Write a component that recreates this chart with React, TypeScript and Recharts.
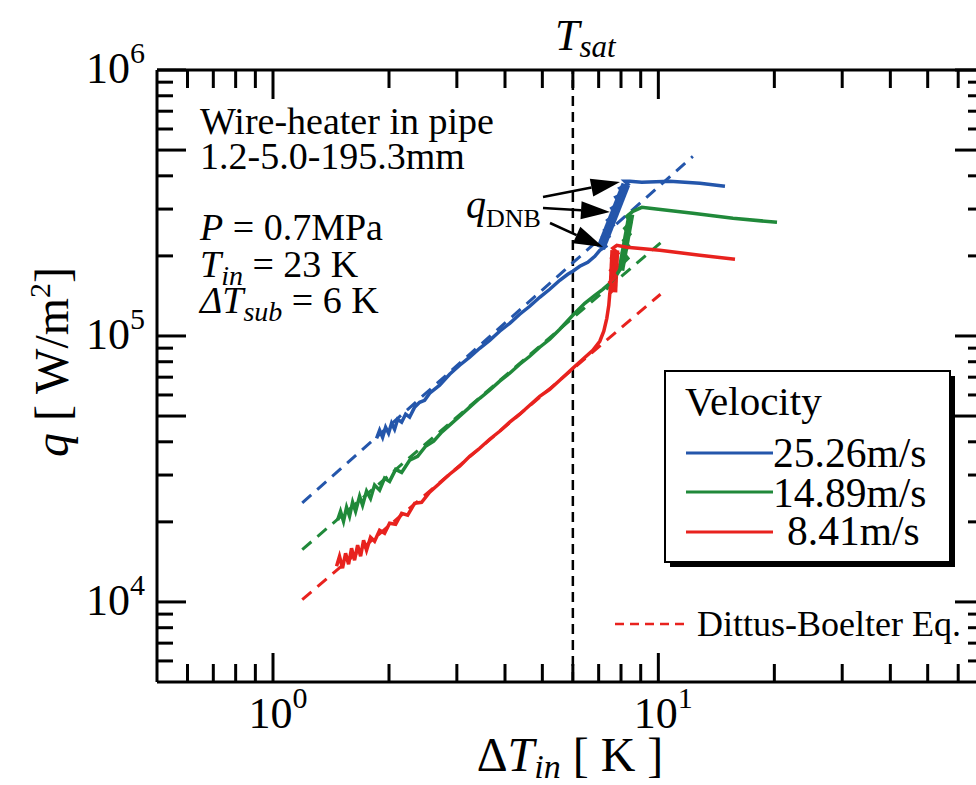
import React from 'react'
import { LineChart, Line, XAxis, YAxis, ReferenceLine } from 'recharts'

// measured runs, [ΔT_in (K), q (W/m2)]
const run2526: [number, number][] = [
  [1.857, 41200], [1.891, 44200], [1.925, 41600], [1.96, 45400], [1.995, 43100],
  [2.031, 47000], [2.068, 44600], [2.106, 48600], [2.157, 47400], [2.209, 50800],
  [2.262, 49500], [2.331, 54000], [2.402, 56300], [2.474, 57300], [2.55, 60900],
  [2.707, 65300], [2.873, 71800], [3.051, 77600], [3.239, 83200], [3.439, 89900],
  [3.65, 96300], [3.875, 104200], [4.114, 111600], [4.368, 120700], [4.637, 129300],
  [4.922, 139800], [5.226, 149800], [5.549, 162000], [5.82, 170600], [5.997, 175100],
  [6.253, 182800], [6.56, 189300], [6.841, 199400], [7.048, 210000], [7.305, 217400],
  [7.132, 229000], [7.437, 237000], [7.261, 249700], [7.618, 260700], [7.392, 272300],
  [7.755, 286800], [7.572, 302100], [7.943, 315400], [7.755, 332300], [8.136, 344000],
  [7.943, 359200], [8.333, 371800], [8.185, 381600], [8.433, 381600], [9.06, 378300],
  [10.71, 381600], [12.82, 375100], [14.89, 365400],
]

const run1489: [number, number][] = [
  [1.471, 20300], [1.497, 21900], [1.524, 20100], [1.552, 22700], [1.58, 21000],
  [1.609, 23700], [1.638, 21900], [1.678, 25000], [1.708, 23100], [1.749, 26100],
  [1.791, 24500], [1.835, 27500], [1.891, 26300], [1.948, 29200], [2.007, 28400],
  [2.081, 31500], [2.157, 30700], [2.262, 34100], [2.373, 35300], [2.489, 38500],
  [2.612, 40200], [2.74, 43500], [2.873, 46200], [3.051, 49900], [3.239, 54000],
  [3.439, 58300], [3.65, 62500], [3.875, 67600], [4.114, 72400], [4.368, 78300],
  [4.637, 83900], [4.922, 90700], [5.226, 97200], [5.549, 106000], [5.997, 119600],
  [6.443, 132700], [6.841, 142200], [7.174, 149800], [7.482, 157800], [7.755, 167700],
  [7.991, 179700], [8.136, 189300], [8.333, 195900], [8.087, 206400], [8.383, 217400],
  [8.136, 229000], [8.433, 241200], [8.185, 254000], [8.484, 267500], [8.283, 281800],
  [8.586, 294300], [9.06, 304600], [9.504, 302100], [12.29, 289300], [15.62, 277000],
  [20.32, 267500],
]

const run841: [number, number][] = [
  [1.462, 13620], [1.488, 14850], [1.515, 13390], [1.543, 15240], [1.571, 13860],
  [1.599, 15920], [1.628, 14350], [1.658, 16340], [1.688, 14850], [1.718, 17060],
  [1.749, 15650], [1.791, 17510], [1.835, 16910], [1.891, 18600], [1.948, 18130],
  [2.007, 19770], [2.081, 19590], [2.157, 21550], [2.236, 21180], [2.331, 23500],
  [2.43, 23700], [2.55, 25850], [2.707, 27940], [2.873, 30210], [3.051, 32380],
  [3.239, 35300], [3.439, 37830], [3.65, 40900], [3.875, 43820], [4.114, 47400],
  [4.368, 50800], [4.637, 54890], [4.922, 59330], [5.226, 63040], [5.549, 68150],
  [5.997, 75620], [6.367, 81740], [6.76, 88350], [7.048, 95520], [7.218, 104200],
  [7.349, 116500], [7.437, 130400], [7.482, 144700], [7.663, 151100], [7.482, 159200],
  [7.755, 167700], [7.527, 176600], [7.802, 186000], [7.572, 195900], [7.848, 204600],
  [7.618, 213700], [7.802, 219300], [8.283, 215500], [10.09, 210000], [12.82, 201100],
  [15.81, 194300],
]

// dense scatter just before DNB (drawn as a wide band)
const burst2526: [number, number][] = [[7.09, 213700], [8.235, 371800]]
const burst1489: [number, number][] = [[7.991, 176600], [8.484, 286800]]
const burst841: [number, number][] = [[7.618, 146000], [7.709, 210000]]

// Dittus-Boelter predictions
const db2526: [number, number][] = [[1.191, 23560], [12.29, 473800]]
const db1489: [number, number][] = [[1.191, 15740], [10.13, 223700]]
const db841: [number, number][] = [[1.191, 10200], [10.13, 143500]]

const tSat = 6

const xTicks = [0.6, 0.7, 0.8, 0.9, 1, 2, 3, 4, 5, 6, 7, 8, 9, 10, 20, 30, 40, 50, 60]
const xMajor = [1, 10]
const yTicks = [
  6000, 7000, 8000, 9000, 10000, 20000, 30000, 40000, 50000, 60000, 70000, 80000, 90000,
  100000, 200000, 300000, 400000, 500000, 600000, 700000, 800000, 900000, 1000000,
]
const yMajor = [10000, 50000, 100000, 500000, 1000000]
const yLabeled = [10000, 100000, 1000000]

const BLUE = '#2456ab'
const GREEN = '#20893a'
const RED = '#e8221e'
const FONT = "'Liberation Serif', 'Times New Roman', serif"

const pts = (a: [number, number][]) => a.map(([t, q]) => ({ t, q }))

const BottomTick = (p: any) => {
  const v = p.payload.value
  const major = xMajor.includes(v)
  return (
    <g>
      <line x1={p.x} x2={p.x} y1={p.y} y2={p.y - (major ? 29 : 18)} stroke="#000" strokeWidth={3} />
      {major && (
        <text x={p.x + 5} y={p.y + 46} textAnchor="middle" fontFamily={FONT} fontSize={44} fill="#000">
          10<tspan dy={-20} fontSize={30}>{Math.round(Math.log10(v))}</tspan>
        </text>
      )}
    </g>
  )
}

const TopTick = (p: any) => {
  const major = xMajor.includes(p.payload.value)
  return <line x1={p.x} x2={p.x} y1={p.y} y2={p.y + (major ? 29 : 18)} stroke="#000" strokeWidth={3} />
}

const LeftTick = (p: any) => {
  const v = p.payload.value
  const major = yMajor.includes(v)
  return (
    <g>
      <line x1={p.x} x2={p.x + (major ? 29 : 16)} y1={p.y} y2={p.y} stroke="#000" strokeWidth={3} />
      {yLabeled.includes(v) && (
        <text x={p.x - 12} y={p.y + 13} textAnchor="end" fontFamily={FONT} fontSize={44} fill="#000">
          10<tspan dy={-20} fontSize={30}>{Math.round(Math.log10(v))}</tspan>
        </text>
      )}
    </g>
  )
}

const RightTick = (p: any) => {
  const major = yMajor.includes(p.payload.value)
  return <line x1={p.x} x2={p.x - (major ? 29 : 16)} y1={p.y} y2={p.y} stroke="#000" strokeWidth={3} />
}

const arrow = (tx: number, ty: number, hx: number, hy: number) => {
  const dx = hx - tx
  const dy = hy - ty
  const len = Math.hypot(dx, dy)
  const ux = dx / len
  const uy = dy / len
  const bx = hx - ux * 29
  const by = hy - uy * 29
  return (
    <g key={`${tx}-${ty}`}>
      <line x1={tx} y1={ty} x2={bx} y2={by} stroke="#000" strokeWidth={2.5} />
      <polygon
        points={`${hx},${hy} ${bx - uy * 9},${by + ux * 9} ${bx + uy * 9},${by - ux * 9}`}
        fill="#000"
      />
    </g>
  )
}

const axisLine = { stroke: '#000', strokeWidth: 3 }

export default function App() {
  return (
    <div style={{ position: 'fixed', left: 0, top: 0, width: 976, height: 785, overflow: 'hidden', background: '#fff' }}>
      <LineChart width={1000} height={785} margin={{ top: 40, right: 0, bottom: 0, left: 0 }}>
        <XAxis
          dataKey="t" type="number" scale="log" domain={[0.5, 70]} allowDataOverflow
          ticks={xTicks} interval={0} height={103} tickSize={0} tickMargin={0}
          axisLine={axisLine} tickLine={false} tick={<BottomTick />}
        />
        <XAxis
          xAxisId="top" orientation="top" dataKey="t" type="number" scale="log" domain={[0.5, 70]}
          allowDataOverflow ticks={xTicks} interval={0} height={30} tickSize={0} tickMargin={0}
          axisLine={axisLine} tickLine={false} tick={<TopTick />}
        />
        <YAxis
          dataKey="q" type="number" scale="log" domain={[5000, 1000000]} allowDataOverflow
          ticks={yTicks} interval={0} width={157} tickSize={0} tickMargin={0}
          axisLine={axisLine} tickLine={false} tick={<LeftTick />}
        />
        <YAxis
          yAxisId="right" orientation="right" dataKey="q" type="number" scale="log"
          domain={[5000, 1000000]} allowDataOverflow ticks={yTicks} interval={0} width={16}
          tickSize={0} tickMargin={0} axisLine={axisLine} tickLine={false} tick={<RightTick />}
        />
        <ReferenceLine x={tSat} stroke="#000" strokeWidth={2.5} strokeDasharray="10 6" />

        <Line data={pts(db2526)} dataKey="q" stroke={BLUE} strokeWidth={3} strokeDasharray="12 8" dot={false} isAnimationActive={false} />
        <Line data={pts(db1489)} dataKey="q" stroke={GREEN} strokeWidth={3} strokeDasharray="12 8" dot={false} isAnimationActive={false} />
        <Line data={pts(db841)} dataKey="q" stroke={RED} strokeWidth={3} strokeDasharray="12 8" dot={false} isAnimationActive={false} />

        <Line data={pts(burst2526)} dataKey="q" stroke={BLUE} strokeWidth={9} dot={false} isAnimationActive={false} />
        <Line data={pts(burst1489)} dataKey="q" stroke={GREEN} strokeWidth={7} dot={false} isAnimationActive={false} />
        <Line data={pts(burst841)} dataKey="q" stroke={RED} strokeWidth={9} dot={false} isAnimationActive={false} />

        <Line data={pts(run2526)} dataKey="q" stroke={BLUE} strokeWidth={3.5} dot={false} isAnimationActive={false} />
        <Line data={pts(run1489)} dataKey="q" stroke={GREEN} strokeWidth={3.5} dot={false} isAnimationActive={false} />
        <Line data={pts(run841)} dataKey="q" stroke={RED} strokeWidth={3.5} dot={false} isAnimationActive={false} />
      </LineChart>

      <svg width={976} height={785} style={{ position: 'absolute', left: 0, top: 0, pointerEvents: 'none' }}
        fontFamily={FONT} fill="#000">
        <text x={555} y={50} fontSize={44} fontStyle="italic">
          T<tspan dy={7} fontSize={31}>sat</tspan>
        </text>

        <text x={68} y={362} fontSize={48} textAnchor="middle" transform="rotate(-90 68 362)">
          <tspan fontStyle="italic">q</tspan> [ W/m<tspan dy={-18} fontSize={30}>2</tspan><tspan dy={18}>]</tspan>
        </text>
        <text x={570} y={771} fontSize={48} textAnchor="middle">
          Δ<tspan fontStyle="italic">T</tspan><tspan fontStyle="italic" fontSize={34} dy={7}>in</tspan>
          <tspan dy={-7}> [ K ]</tspan>
        </text>

        <g fontSize={38}>
          <text x={200} y={134}>Wire-heater in pipe</text>
          <text x={200} y={169}>1.2-5.0-195.3mm</text>
          <text x={200} y={240}><tspan fontStyle="italic">P</tspan> = 0.7MPa</text>
          <text x={200} y={277}>
            <tspan fontStyle="italic">T</tspan><tspan fontStyle="italic" fontSize={28} dy={8}>in</tspan>
            <tspan dy={-8}> = 23 K</tspan>
          </text>
          <text x={200} y={313}>
            <tspan fontStyle="italic">ΔT</tspan><tspan fontStyle="italic" fontSize={28} dy={8}>sub</tspan>
            <tspan dy={-8}> = 6 K</tspan>
          </text>
        </g>

        <text x={466} y={218} fontSize={40} fontStyle="italic">q</text>
        <text x={486} y={227} fontSize={26}>DNB</text>
        {arrow(543, 197, 620, 182)}
        {arrow(543, 208, 610, 212)}
        {arrow(550, 223, 603, 247)}

        <rect x={670} y={376} width={285} height={191} fill="#000" />
        <rect x={665} y={371} width={285} height={191} fill="#fff" stroke="#000" strokeWidth={2} />
        <text x={685} y={415} fontSize={41}>Velocity</text>
        <line x1={686} x2={773} y1={453} y2={453} stroke={BLUE} strokeWidth={3} />
        <text x={773} y={467} fontSize={41.5}>25.26m/s</text>
        <line x1={686} x2={773} y1={492} y2={492} stroke={GREEN} strokeWidth={3} />
        <text x={773} y={507} fontSize={41.5}>14.89m/s</text>
        <line x1={686} x2={773} y1={532} y2={532} stroke={RED} strokeWidth={3} />
        <text x={787} y={545} fontSize={41.5}>8.41m/s</text>

        <line x1={615} x2={687} y1={624} y2={624} stroke={RED} strokeWidth={2.5} strokeDasharray="9 6" />
        <text x={697} y={636} fontSize={36}>Dittus-Boelter Eq.</text>
      </svg>
    </div>
  )
}
